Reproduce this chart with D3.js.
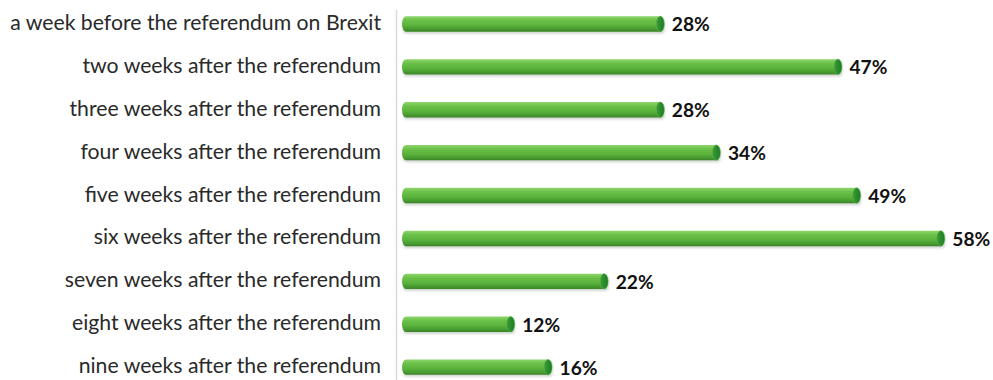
<!DOCTYPE html>
<html>
<head>
<meta charset="utf-8">
<script src="https://cdn.jsdelivr.net/npm/d3@7"></script>
<style>
  html, body { margin: 0; padding: 0; background: #fff; }
  svg { display: block; }
</style>
</head>
<body>
<svg id="chart" width="993" height="380"></svg>
<script>
// Share of respondents per survey wave
const categories = [
  "a week before the referendum on Brexit",
  "two weeks after the referendum",
  "three weeks after the referendum",
  "four weeks after the referendum",
  "five weeks after the referendum",
  "six weeks after the referendum",
  "seven weeks after the referendum",
  "eight weeks after the referendum",
  "nine weeks after the referendum"
];
const values = [28, 47, 28, 34, 49, 58, 22, 12, 16];
const valueLabels = values.map(v => v + "%");

const svg = d3.select("#chart");

const x = d3.scaleLinear().domain([0, 60]).range([402, 963]);
const y = d3.scaleBand().domain(categories).range([2.5, 388.6]).paddingInner(0.64).paddingOuter(0.32);
const mid = d => y(d) + y.bandwidth() / 2;

// Cylinder shading
const defs = svg.append("defs");
const body = defs.append("linearGradient").attr("id", "barBody")
  .attr("x1", 0).attr("y1", 0).attr("x2", 0).attr("y2", 1);
[["0%", "#8fd66c"], ["25%", "#6cc24a"], ["60%", "#5ab23c"], ["85%", "#46992f"], ["100%", "#3a8227"]]
  .forEach(([o, c]) => body.append("stop").attr("offset", o).attr("stop-color", c));
const cap = defs.append("linearGradient").attr("id", "barCap")
  .attr("x1", 0).attr("y1", 0).attr("x2", 1).attr("y2", 0);
[["0%", "#3d9a34"], ["60%", "#268a2c"], ["100%", "#1f7a25"]]
  .forEach(([o, c]) => cap.append("stop").attr("offset", o).attr("stop-color", c));
const blur = defs.append("filter").attr("id", "soft").attr("x", "-5%").attr("y", "-50%").attr("width", "110%").attr("height", "200%");
blur.append("feGaussianBlur").attr("stdDeviation", 1);

// Category axis line
svg.append("line")
  .attr("x1", 396.5).attr("x2", 396.5)
  .attr("y1", 10).attr("y2", 380)
  .attr("stroke", "#d9d9d9").attr("stroke-width", 1.5);

// Category labels
const catLabels = svg.append("g").selectAll("text").data(categories).join("text")
  .attr("x", 381)
  .attr("y", d => mid(d) + 6)
  .attr("text-anchor", "end")
  .attr("font-family", "Lato, sans-serif")
  .attr("font-size", 18)
  .attr("fill", "#2a2a2a")
  .text(d => d);

// Size the labels so the longest one spans the left margin
const longest = d3.max(catLabels.nodes(), n => n.getComputedTextLength());
catLabels.attr("font-size", 18 * 371 / longest);

const rows = categories.map((c, i) => ({ c, v: values[i], label: valueLabels[i] }));
const bars = svg.append("g").selectAll("g").data(rows).join("g");
const capR = 4;

// Shadow under each bar
bars.append("rect")
  .attr("x", x(0) + 1)
  .attr("y", d => y(d.c) + 2)
  .attr("width", d => x(d.v) - x(0))
  .attr("height", y.bandwidth())
  .attr("rx", 4)
  .attr("fill", "#9aa59a")
  .attr("opacity", 0.45)
  .attr("filter", "url(#soft)");

// Bar body
bars.append("rect")
  .attr("x", x(0))
  .attr("y", d => y(d.c))
  .attr("width", d => x(d.v) - x(0))
  .attr("height", y.bandwidth())
  .attr("rx", 4).attr("ry", y.bandwidth() / 2)
  .attr("fill", "url(#barBody)");

// Right end cap
bars.append("ellipse")
  .attr("cx", d => x(d.v) - capR + 0.5)
  .attr("cy", d => mid(d.c))
  .attr("rx", capR)
  .attr("ry", y.bandwidth() / 2)
  .attr("fill", "url(#barCap)")
  .attr("stroke", "#5fb445")
  .attr("stroke-width", 0.6);

// Value labels
const valText = bars.append("text")
  .attr("x", d => x(d.v) + 8)
  .attr("y", d => mid(d.c) + 7.5)
  .attr("font-family", "Lato, sans-serif")
  .attr("font-weight", "bold")
  .attr("font-size", 18)
  .attr("fill", "#111")
  .text(d => d.label);
const w0 = valText.nodes()[0].getComputedTextLength();
valText.attr("font-size", 18 * 38 / w0);
</script>
</body>
</html>
